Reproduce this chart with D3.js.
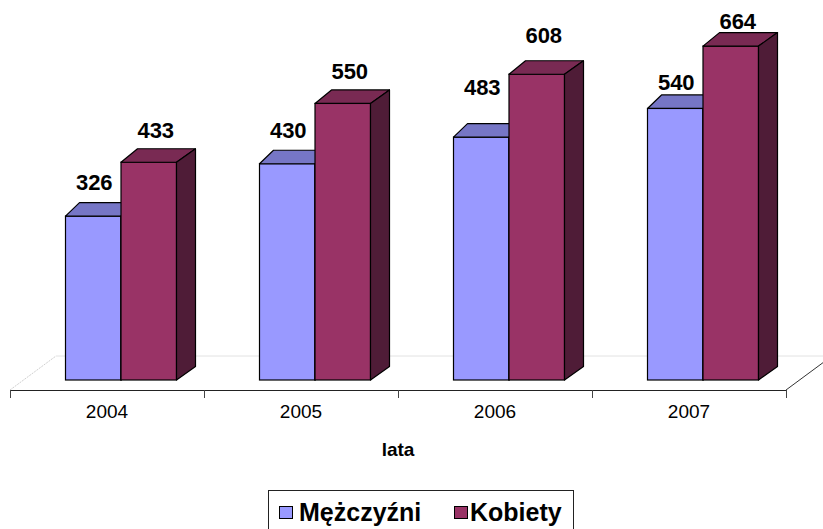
<!DOCTYPE html>
<html>
<head>
<meta charset="utf-8">
<script src="https://cdn.jsdelivr.net/npm/d3@7/dist/d3.min.js"></script>
<style>
  html, body { margin: 0; padding: 0; background: #fff; }
  svg { display: block; font-family: "Liberation Sans", Arial, sans-serif; }
</style>
</head>
<body>
<svg id="chart" width="823" height="529"></svg>
<script>
// ---- data ----
const years = ["2004", "2005", "2006", "2007"];
const seriesNames = ["Mężczyźni", "Kobiety"];
const men = [326, 430, 483, 540];
const women = [433, 550, 608, 664];
const axisTitle = "lata";

// ---- layout / style ----
const W = 823, H = 529;
const floorFrontY = 390, floorLeft = 10, floorRight = 786;
const floorDepth = { dx: 46, dy: -34 };
const barBaseY = 380;          // bars stand at mid depth of the floor
const barShiftX = 14;          // mid-depth horizontal shift
const groupWidth = 111;
const barDepthDy = -13.5;
const colors = {
  front: ["#9999FF", "#993366"],
  top:   ["#7676C6", "#792A53"],
  side:  ["#5B5BA0", "#4F1C37"]
};
// manual nudges of the value labels (as placed in the original)
const labelShiftY = [[0, 0, -16, 8], [2, 2, -5, 9]];

const svg = d3.select("#chart");

const x = d3.scaleBand().domain(years).range([floorLeft, floorRight]).paddingInner(0).paddingOuter(0);
const y = d3.scaleLinear().domain([0, 700]).range([barBaseY, 28]);
const xs = d3.scaleBand().domain(seriesNames).range([0, groupWidth]).padding(0);

// ---- floor ----
const fl = [
  [floorLeft, floorFrontY],
  [floorRight, floorFrontY],
  [floorRight + floorDepth.dx, floorFrontY + floorDepth.dy],
  [floorLeft + floorDepth.dx, floorFrontY + floorDepth.dy]
];
svg.append("path").attr("d", "M" + fl.join("L") + "Z").attr("fill", "#fff").attr("stroke", "none");
svg.append("line").attr("x1", fl[3][0]).attr("y1", fl[3][1]).attr("x2", fl[2][0]).attr("y2", fl[2][1])
  .attr("stroke", "#e2e2e2").attr("stroke-width", 1);
svg.append("line").attr("x1", fl[0][0]).attr("y1", fl[0][1]).attr("x2", fl[3][0]).attr("y2", fl[3][1])
  .attr("stroke", "#d0d0d0").attr("stroke-width", 1).attr("stroke-dasharray", "2,1");
svg.append("line").attr("x1", fl[1][0]).attr("y1", fl[1][1]).attr("x2", fl[2][0]).attr("y2", fl[2][1])
  .attr("stroke", "#333").attr("stroke-width", 1);

// ---- x axis ----
const axis = svg.append("g").attr("transform", `translate(0,${floorFrontY})`)
  .call(d3.axisBottom(x).tickSize(0).tickPadding(15).tickSizeOuter(0));
axis.select(".domain").attr("stroke", "#222").attr("stroke-width", 1.2);
axis.selectAll("text").attr("font-size", 19).attr("fill", "#000")
  .attr("font-family", "Liberation Sans, Arial, sans-serif");
const boundaries = years.map(d => x(d)).concat([x.range()[1]]);
axis.selectAll(".bound").data(boundaries).enter().append("line")
  .attr("class", "bound")
  .attr("x1", d => Math.round(d) + 0.5).attr("x2", d => Math.round(d) + 0.5)
  .attr("y1", 0).attr("y2", 8).attr("stroke", "#444").attr("stroke-width", 1);

svg.append("text").attr("x", 398).attr("y", 456).attr("text-anchor", "middle")
  .attr("font-size", 19).attr("font-weight", "bold").text(axisTitle);

// ---- bars ----
const valuesBySeries = [men, women];
years.forEach((yr, i) => {
  const gL = x(yr) + (x.bandwidth() - groupWidth) / 2 + barShiftX;
  const depthDx = px => 14 + 5 * (px - gL) / groupWidth;
  const g = svg.append("g");
  seriesNames.forEach((s, si) => {
    const v = valuesBySeries[si][i];
    const x0 = gL + xs(s), x1 = x0 + xs.bandwidth();
    const yt = y(v), yb = y(0);
    const d0 = depthDx(x0), d1 = depthDx(x1);
    g.append("rect").attr("x", x0).attr("y", yt).attr("width", x1 - x0).attr("height", yb - yt)
      .attr("fill", colors.front[si]).attr("stroke", "#000").attr("stroke-width", 1.2);
    g.append("path")
      .attr("d", `M${x0},${yt}L${x1},${yt}L${x1 + d1},${yt + barDepthDy}L${x0 + d0},${yt + barDepthDy}Z`)
      .attr("fill", colors.top[si]).attr("stroke", "#000").attr("stroke-width", 1.2).attr("stroke-linejoin", "round");
    g.append("path")
      .attr("d", `M${x1},${yt}L${x1 + d1},${yt + barDepthDy}L${x1 + d1},${yb + barDepthDy}L${x1},${yb}Z`)
      .attr("fill", colors.side[si]).attr("stroke", "#000").attr("stroke-width", 1.2).attr("stroke-linejoin", "round");
  });
});

// value labels
years.forEach((yr, i) => {
  const gL = x(yr) + (x.bandwidth() - groupWidth) / 2 + barShiftX;
  seriesNames.forEach((s, si) => {
    const v = valuesBySeries[si][i];
    const cx = gL + xs(s) + xs.bandwidth() / 2 + (si === 0 ? 1 : 7);
    svg.append("text").attr("x", cx).attr("y", y(v) - 26 + labelShiftY[si][i])
      .attr("text-anchor", "middle").attr("font-size", 22).attr("font-weight", "bold")
      .attr("fill", "#000").text(v);
  });
});

// ---- legend ----
const lg = svg.append("g");
lg.append("rect").attr("x", 268.5).attr("y", 490.5).attr("width", 305).attr("height", 50)
  .attr("fill", "#fff").attr("stroke", "#222").attr("stroke-width", 1);
const legendItems = [
  { name: seriesNames[0], color: colors.front[0], mx: 279.5, tx: 299 },
  { name: seriesNames[1], color: colors.front[1], mx: 454.5, tx: 470 }
];
legendItems.forEach(it => {
  lg.append("rect").attr("x", it.mx).attr("y", 506.5).attr("width", 13).attr("height", 12)
    .attr("fill", it.color).attr("stroke", "#000").attr("stroke-width", 1);
  lg.append("text").attr("x", it.tx).attr("y", 521).attr("font-size", 25).attr("font-weight", "bold")
    .attr("fill", "#000").text(it.name);
});
</script>
</body>
</html>
